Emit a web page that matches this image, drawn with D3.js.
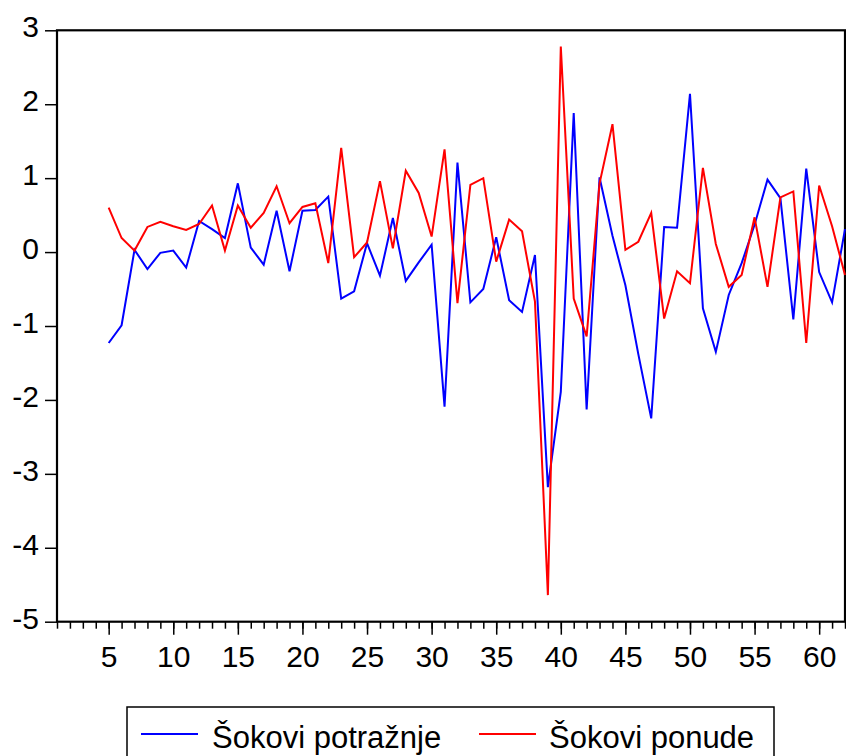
<!DOCTYPE html>
<html>
<head>
<meta charset="utf-8">
<script src="https://cdn.jsdelivr.net/npm/d3@7"></script>
<style>
  html, body { margin: 0; padding: 0; background: #fff; }
  svg { display: block; }
  text { font-family: "Liberation Sans", Arial, sans-serif; fill: #000; }
</style>
</head>
<body>
<svg id="chart" width="846" height="756"></svg>
<script>
// ---- data ----
const periods = d3.range(5, 63);
const demandShocks = [
  -1.23, -0.99, 0.03, -0.23, -0.01, 0.02, -0.21, 0.42, 0.31, 0.19,
  0.93, 0.06, -0.17, 0.56, -0.26, 0.56, 0.57, 0.75, -0.63, -0.53,
  0.12, -0.32, 0.46, -0.39, -0.14, 0.10, -2.09, 1.21, -0.68, -0.50,
  0.20, -0.65, -0.81, -0.04, -3.18, -1.89, 1.88, -2.13, 1.01, 0.22,
  -0.45, -1.38, -2.25, 0.34, 0.33, 2.14, -0.76, -1.35, -0.58, -0.15,
  0.37, 0.98, 0.73, -0.91, 1.13, -0.27, -0.68, 0.31
];
const supplyShocks = [
  0.60, 0.19, 0.02, 0.34, 0.41, 0.35, 0.30, 0.38, 0.63, 0.02,
  0.63, 0.33, 0.53, 0.89, 0.39, 0.61, 0.66, -0.15, 1.41, -0.07,
  0.13, 0.96, 0.05, 1.10, 0.80, 0.21, 1.39, -0.69, 0.91, 1.00,
  -0.13, 0.44, 0.28, -0.67, -4.64, 2.78, -0.63, -1.14, 0.93, 1.73,
  0.03, 0.14, 0.53, -0.90, -0.26, -0.42, 1.14, 0.11, -0.47, -0.31,
  0.47, -0.47, 0.74, 0.82, -1.23, 0.90, 0.35, -0.31
];
const seriesNames = ["Šokovi potražnje", "Šokovi ponude"];
const seriesColors = ["#0000ff", "#ff0000"];
const xTickLabels = [5, 10, 15, 20, 25, 30, 35, 40, 45, 50, 55, 60];
const yTickLabels = [3, 2, 1, 0, -1, -2, -3, -4, -5];

// ---- layout ----
const plotL = 57, plotR = 845, plotT = 30.3, plotB = 621.7;
const svg = d3.select("#chart");

const x = d3.scaleLinear().domain([1, 62]).range([plotL, plotR]);
const y = d3.scaleLinear().domain([-5, 3]).range([plotB, plotT]);

// frame
svg.append("rect")
  .attr("x", plotL).attr("y", plotT)
  .attr("width", plotR - plotL).attr("height", plotB - plotT)
  .attr("fill", "none").attr("stroke", "#000").attr("stroke-width", 2.2);

// x axis: minor ticks every period, major every 5
const xMinor = d3.axisBottom(x).tickValues(d3.range(1, 63)).tickSize(7).tickFormat("");
const gxm = svg.append("g").attr("transform", `translate(0,${plotB})`).call(xMinor);
const xMajor = d3.axisBottom(x).tickValues(xTickLabels).tickSize(13).tickPadding(12).tickFormat(d3.format("d"));
const gx = svg.append("g").attr("transform", `translate(0,${plotB})`).call(xMajor);
[gxm, gx].forEach(g => {
  g.select(".domain").remove();
  g.selectAll("line").attr("stroke", "#000").attr("stroke-width", 1.5);
});
gx.selectAll("text")
  .attr("font-size", 30).attr("font-family", "Liberation Sans, Arial, sans-serif")
  .attr("fill", "#000").attr("dy", null).attr("y", 45);

// y axis
const yAxis = d3.axisLeft(y).tickValues(yTickLabels).tickSize(12).tickPadding(0).tickFormat(d3.format("d"));
const gy = svg.append("g").attr("transform", `translate(${plotL},0)`).call(yAxis);
gy.select(".domain").remove();
gy.selectAll("line").attr("stroke", "#000").attr("stroke-width", 1.5);
gy.selectAll("text")
  .attr("font-size", 30).attr("font-family", "Liberation Sans, Arial, sans-serif")
  .attr("fill", "#000").attr("x", -18).attr("dy", null).attr("y", 6.5)
  .text(d => d < 0 ? "-" + Math.abs(d) : d);

// lines
const line = d3.line().x((d, i) => x(periods[i])).y(d => y(d));
[demandShocks, supplyShocks].forEach((s, k) => {
  svg.append("path")
    .datum(s)
    .attr("d", line)
    .attr("fill", "none")
    .attr("stroke", seriesColors[k])
    .attr("stroke-width", 2)
    .attr("stroke-linejoin", "miter");
});

// legend
const lg = svg.append("g");
lg.append("rect").attr("x", 127).attr("y", 707).attr("width", 647).attr("height", 70)
  .attr("fill", "#fff").attr("stroke", "#000").attr("stroke-width", 1.5);
const legendItems = [
  { lx: 141, tx: 212 },
  { lx: 479, tx: 549 }
];
legendItems.forEach((it, k) => {
  lg.append("line").attr("x1", it.lx).attr("x2", it.lx + 57).attr("y1", 734).attr("y2", 734)
    .attr("stroke", seriesColors[k]).attr("stroke-width", 2);
  lg.append("text").attr("x", it.tx).attr("y", 748).attr("font-size", 31).text(seriesNames[k]);
});
</script>
</body>
</html>
